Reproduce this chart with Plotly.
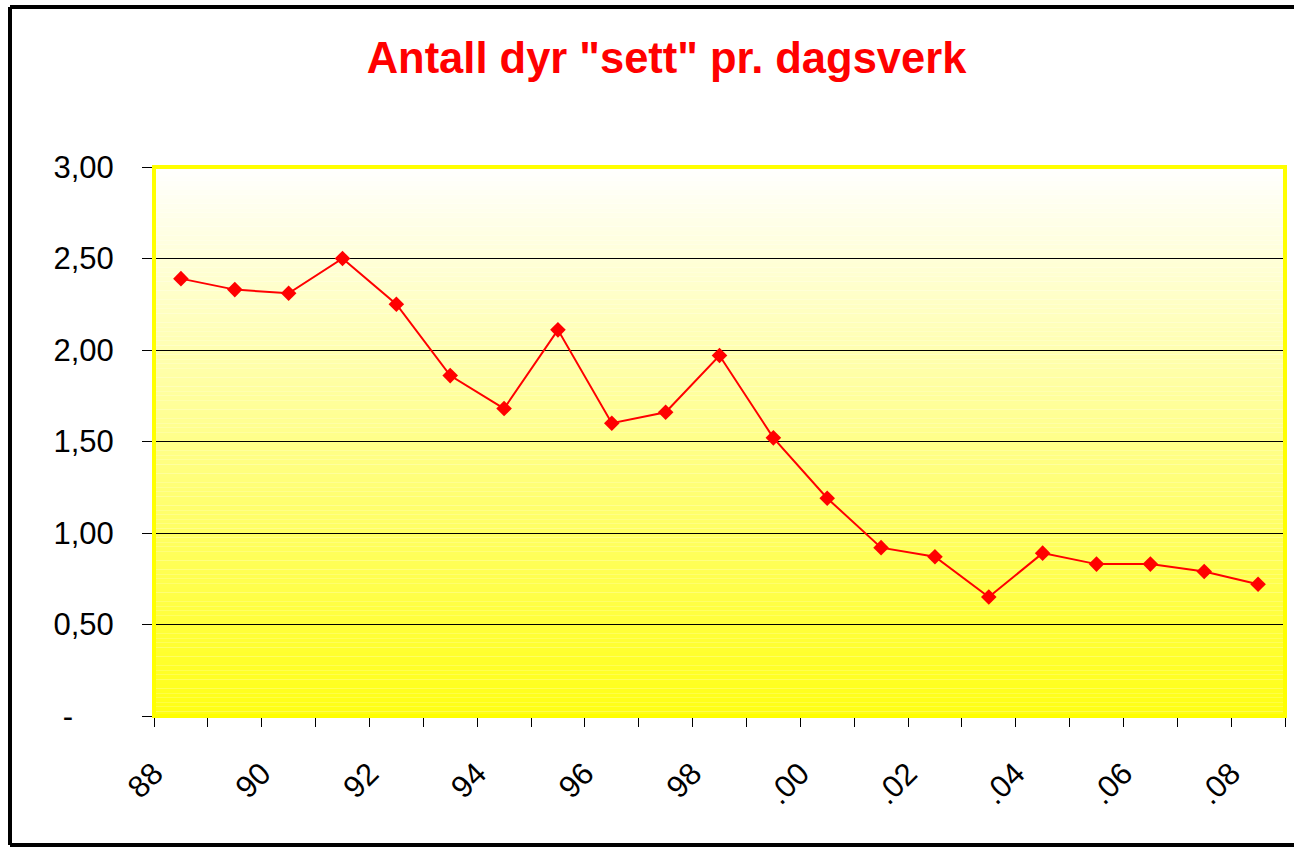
import plotly.graph_objects as go

# ---- data ----
years = list(range(1988, 2009))
values = [2.39, 2.33, 2.31, 2.50, 2.25, 1.86, 1.68, 2.11, 1.60, 1.66, 1.97,
          1.52, 1.19, 0.92, 0.87, 0.65, 0.89, 0.83, 0.83, 0.79, 0.72]
x_tick_years = list(range(1988, 2010))
x_tick_labels = ["88", "", "90", "", "92", "", "94", "", "96", "", "98", "",
                 ".00", "", ".02", "", ".04", "", ".06", "", ".08", ""]
y_tick_vals = [0, 0.5, 1.0, 1.5, 2.0, 2.5, 3.0]
y_tick_labels = ["-\u2007\u2007\u2009", "0,50", "1,00", "1,50", "2,00", "2,50", "3,00"]
title_text = 'Antall dyr "sett" pr. dagsverk'

W, H = 1294, 847
L, R, T, B = 154, 1285, 167, 716
FONT = "Arial, 'Liberation Sans', sans-serif"

fig = go.Figure()
fig.add_trace(go.Scatter(
    x=years, y=values, mode="lines+markers",
    line=dict(color="#FF0000", width=2),
    marker=dict(symbol="diamond", size=12, color="#FF0000"),
    hoverinfo="x+y", showlegend=False,
))

shapes = []
# gradient background (white at top -> yellow at bottom)
N = 120
for i in range(N):
    t = (i + 0.5) / N  # 0 bottom -> 1 top
    b = int(round(20 + (255 - 20) * t))
    shapes.append(dict(type="rect", xref="x domain", yref="y domain",
                       x0=0, x1=1, y0=i / N, y1=(i + 1) / N,
                       fillcolor=f"rgb(255,255,{b})", line=dict(width=0),
                       layer="below"))
# yellow plot border
shapes.append(dict(type="rect", xref="x domain", yref="y domain",
                   x0=0, x1=1, y0=0, y1=1, fillcolor="rgba(0,0,0,0)",
                   line=dict(color="#FFFF00", width=4), layer="above"))
# outer black frame (left, top, bottom edges; right edge lies off-page)
pw, ph = R - L, B - T
fx0 = (10 - L) / pw
fx1 = (W + 20 - L) / pw
fy0 = (B - 845) / ph
fy1 = (B - 7) / ph
for (a, b_, c, d) in [(fx0, fy0, fx0, fy1), (fx0, fy1, fx1, fy1), (fx0, fy0, fx1, fy0)]:
    shapes.append(dict(type="line", xref="paper", yref="paper",
                       x0=a, y0=b_, x1=c, y1=d,
                       line=dict(color="#000000", width=4), layer="above"))

fig.update_layout(
    width=W, height=H,
    margin=dict(l=L, r=W - R, t=T, b=H - B, pad=0, autoexpand=False),
    paper_bgcolor="#FFFFFF", plot_bgcolor="rgba(0,0,0,0)",
    font=dict(family=FONT, size=30, color="#000000"),
    title=dict(text=title_text, x=666.5 / W, xref="container", xanchor="center",
               y=1 - 58 / H, yref="container", yanchor="middle",
               font=dict(family=FONT, size=43.5, color="#FF0000", weight="bold")),
    shapes=shapes,
    xaxis=dict(range=[1987.5, 2008.5], tickmode="array",
               tickvals=[y - 0.5 for y in x_tick_years], ticktext=x_tick_labels,
               tickangle=-45, ticks="outside", ticklen=10, tickcolor="#000000",
               tickwidth=1, showgrid=False, zeroline=False,
               showline=True, linecolor="#000000", linewidth=1,
               ticklabelstandoff=16, automargin=False,
               tickfont=dict(size=31), fixedrange=True),
    yaxis=dict(range=[0, 3], tickmode="array", tickvals=y_tick_vals,
               ticktext=y_tick_labels, ticks="outside", ticklen=11,
               tickcolor="#000000", tickwidth=1, showgrid=True,
               gridcolor="#000000", gridwidth=1, zeroline=False,
               showline=True, linecolor="#000000", linewidth=1,
               ticklabelstandoff=22, automargin=False,
               tickfont=dict(size=31), fixedrange=True),
)

fig.write_html(
    "out.html",
    config={"displayModeBar": False},
    post_script="document.body.style.margin='0';document.body.style.overflow='hidden';",
)
